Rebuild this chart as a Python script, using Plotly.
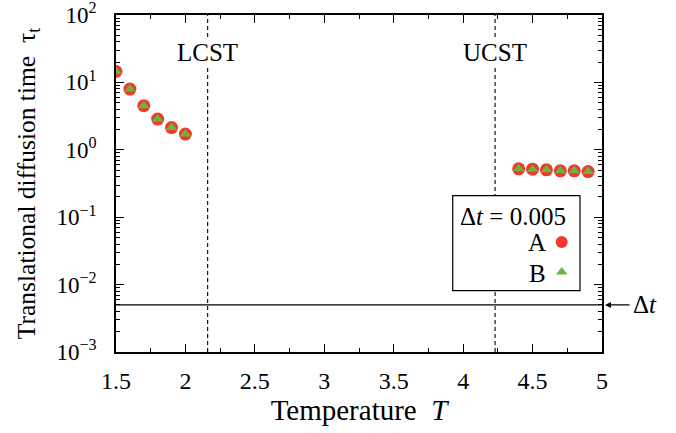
import math
import plotly.graph_objects as go

# ---- data ----
T_low = [1.5, 1.6, 1.7, 1.8, 1.9, 2.0]
T_high = [4.4, 4.5, 4.6, 4.7, 4.8, 4.9]
tau_A_low = [14.5, 7.96, 4.50, 2.86, 2.14, 1.71]
tau_A_high = [0.522, 0.516, 0.504, 0.487, 0.487, 0.475]
tau_B_low = [14.5, 7.96, 4.50, 2.86, 2.14, 1.71]
tau_B_high = [0.522, 0.516, 0.504, 0.487, 0.487, 0.475]
dt = 0.005
T_LCST = 2.16
T_UCST = 4.23
y_tickvals = [1e-3, 1e-2, 1e-1, 1e0, 1e1, 1e2]
y_ticktext = ["10<sup>\u22123</sup>", "10<sup>\u22122</sup>", "10<sup>\u22121</sup>",
              "10<sup>0</sup>", "10<sup>1</sup>", "10<sup>2</sup>"]

RED = "#ef3a2d"
GREEN = "#6db33f"
FONT = "Liberation Serif"

W, H = 676, 433
L, R, TOP, B = 116, 602, 15, 352


def px(xp):
    return (xp - L) / (R - L)


def py(yp):
    return (B - yp) / (B - TOP)


fig = go.Figure()

# reference line at dt
fig.add_trace(go.Scatter(x=[1.5, 5.0], y=[dt, dt], mode="lines",
                         line=dict(color="black", width=1.2), showlegend=False, hoverinfo="skip"))

for xs, ys in [(T_low, tau_A_low), (T_high, tau_A_high)]:
    fig.add_trace(go.Scatter(x=xs, y=ys, mode="markers", showlegend=False,
                             marker=dict(symbol="circle", size=13, color=RED, line=dict(width=0))))
for xs, ys in [(T_low, tau_B_low), (T_high, tau_B_high)]:
    fig.add_trace(go.Scatter(x=xs, y=ys, mode="markers", showlegend=False,
                             marker=dict(symbol="triangle-up", size=10, color=GREEN, line=dict(width=0))))

# custom legend markers (symbol on the right side of the label)
fig.add_trace(go.Scatter(x=[px(561.7)], y=[py(242)], xaxis="x2", yaxis="y2", mode="markers",
                         marker=dict(symbol="circle", size=12, color=RED, line=dict(width=0)),
                         showlegend=False))
fig.add_trace(go.Scatter(x=[px(561.7)], y=[py(272)], xaxis="x2", yaxis="y2", mode="markers",
                         marker=dict(symbol="triangle-up", size=10, color=GREEN, line=dict(width=0)),
                         showlegend=False))

# vertical dashed lines
for xv in [T_LCST, T_UCST]:
    fig.add_shape(type="line", x0=xv, x1=xv, y0=0, y1=1, xref="x", yref="paper", layer="below",
                  line=dict(color="black", width=1.1, dash="4px,3px"))

# legend box (drawn after dashed lines, below markers)
fig.add_shape(type="rect", xref="paper", yref="paper", x0=px(452.7), x1=px(580), y0=py(290.7),
              y1=py(195.7), line=dict(color="black", width=1.2), fillcolor="white", layer="below")

ann_font = dict(family=FONT, size=25, color="black")
fig.add_annotation(x=T_LCST, y=py(52.5), xref="x", yref="paper", text="LCST", showarrow=False,
                   bgcolor="white", font=ann_font, xanchor="center", yanchor="middle")
fig.add_annotation(x=T_UCST, y=py(52.5), xref="x", yref="paper", text="UCST", showarrow=False,
                   bgcolor="white", font=ann_font, xanchor="center", yanchor="middle")
fig.add_annotation(x=px(568), y=py(216.7), xref="paper", yref="paper", xanchor="right",
                   yanchor="middle", text="\u0394<i>t</i> = 0.005", showarrow=False, font=ann_font)
fig.add_annotation(x=px(548), y=py(242), xref="paper", yref="paper", xanchor="right",
                   yanchor="middle", text="A", showarrow=False, font=ann_font)
fig.add_annotation(x=px(548), y=py(273), xref="paper", yref="paper", xanchor="right",
                   yanchor="middle", text="B", showarrow=False, font=ann_font)
# arrow marker for dt outside the axes (log axis -> annotation y in log10 units)
fig.add_annotation(x=px(605), y=math.log10(dt), xref="paper", yref="y", ax=26, ay=0,
                   text="", showarrow=True, arrowhead=2, arrowsize=1, arrowwidth=1.2,
                   arrowcolor="black")
fig.add_annotation(x=px(631), y=math.log10(dt), xref="paper", yref="y", xanchor="left",
                   yanchor="middle", text="\u0394<i>t</i>", showarrow=False, font=ann_font)

axis_common = dict(showline=True, linecolor="black", linewidth=1.5, mirror="allticks",
                   ticks="inside", tickcolor="black", tickwidth=1.2, showgrid=False, zeroline=False,
                   automargin=False, ticklabeloverflow="allow")

fig.update_layout(
    width=W, height=H,
    margin=dict(l=L, r=W - R, t=TOP, b=H - B, autoexpand=False),
    paper_bgcolor="white", plot_bgcolor="white",
    font=dict(family=FONT, size=24, color="black"),
    xaxis=dict(range=[1.5, 5.0], dtick=0.5, tick0=1.5, ticklen=8, ticklabelstandoff=6,
               tickfont=dict(family=FONT, size=24, color="black"),
               minor=dict(dtick=0.25, ticks="inside", ticklen=4, tickcolor="black", tickwidth=1.2),
               title=dict(text="Temperature  <i>T</i>", font=dict(family=FONT, size=29), standoff=7),
               **axis_common),
    yaxis=dict(type="log", range=[-3, 2], tickmode="array", tickvals=y_tickvals, ticktext=y_ticktext,
               ticklen=8, ticklabelstandoff=13,
               tickfont=dict(family=FONT, size=23, color="black"),
               minor=dict(ticks="inside", ticklen=4, tickcolor="black", tickwidth=1.2, dtick="D1"),
               title=dict(text="Translational diffusion time  \u03c4<sub>t</sub>",
                          font=dict(family=FONT, size=25.5), standoff=14),
               **axis_common),
    xaxis2=dict(range=[0, 1], overlaying="x", visible=False),
    yaxis2=dict(range=[0, 1], overlaying="y", visible=False),
)

fig.write_html("out.html", config={"displayModeBar": False},
               post_script="document.body.style.margin='0px';document.body.style.overflow='hidden';")
